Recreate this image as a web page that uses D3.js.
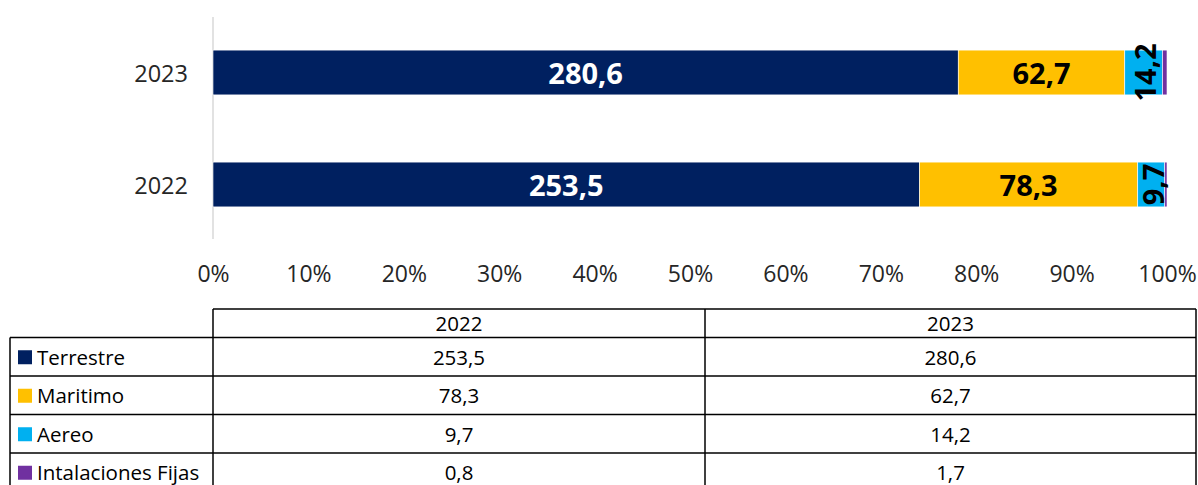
<!DOCTYPE html>
<html><head><meta charset="utf-8">
<script src="https://cdn.jsdelivr.net/npm/d3@7"></script>
<style>
html,body{margin:0;padding:0;background:#fff;}
svg{display:block;font-family:"Open Sans",sans-serif;}
</style></head>
<body>
<svg id="c" width="1198" height="485"></svg>
<script>
const years = ["2022", "2023"];
const seriesNames = ["Terrestre", "Maritimo", "Aereo", "Intalaciones Fijas"];
const terrestre = [253.5, 280.6];
const maritimo = [78.3, 62.7];
const aereo = [9.7, 14.2];
const fijas = [0.8, 1.7];
const colors = ["#002060", "#FFC000", "#00B0F0", "#7030A0"];
const tickValues = [0, 0.1, 0.2, 0.3, 0.4, 0.5, 0.6, 0.7, 0.8, 0.9, 1.0];

const seriesVals = [terrestre, maritimo, aereo, fijas];
const fmt = v => d3.format(".1f")(v).replace(".", ",");

const svg = d3.select("#c");
const x = d3.scaleLinear().domain([0, 1]).range([213, 1167]);
const yOrder = ["2023", "2022"];
const y = d3.scaleBand().domain(yOrder).range([16.5, 240.5]).paddingInner(0.6).paddingOuter(0.3);

const rows = years.map((yr, i) => {
  const vals = seriesVals.map(s => s[i]);
  const total = d3.sum(vals);
  let acc = 0;
  return {year: yr, segs: vals.map((v, k) => { const s = {k, v, x0: acc / total, x1: (acc + v) / total}; acc += v; return s; })};
});

svg.append("line").attr("x1", 213).attr("x2", 213).attr("y1", 17).attr("y2", 239)
  .attr("stroke", "#d9d9d9").attr("stroke-width", 1.5);

const g = svg.append("g");
rows.forEach(r => {
  const gy = y(r.year);
  r.segs.forEach(s => {
    g.append("rect").attr("x", x(s.x0)).attr("y", gy)
      .attr("width", Math.max(0, x(s.x1) - x(s.x0))).attr("height", y.bandwidth())
      .attr("fill", colors[s.k]).attr("stroke", "#fff").attr("stroke-width", 0.6);
  });
  r.segs.forEach(s => {
    if (s.k === 3) return;
    const cx = (x(s.x0) + x(s.x1)) / 2, cy = gy + y.bandwidth() / 2;
    const t = g.append("text").attr("font-weight", "bold").attr("font-size", 29)
      .attr("fill", s.k === 0 ? "#fff" : "#000").attr("text-anchor", "middle")
      .attr("dominant-baseline", "central").text(fmt(s.v));
    if (s.k === 2) t.attr("transform", `translate(${cx + 1},${cy}) rotate(-90)`);
    else t.attr("x", cx).attr("y", cy);
  });
  svg.append("text").attr("x", 188).attr("y", gy + y.bandwidth() / 2)
    .attr("text-anchor", "end").attr("dominant-baseline", "central")
    .attr("font-size", 23.5).attr("fill", "#262626").text(r.year);
});

const ax = svg.append("g").attr("transform", "translate(0,273)")
  .call(d3.axisBottom(x).tickValues(tickValues).tickFormat(d3.format(".0%")).tickSize(0));
ax.select(".domain").remove();
ax.selectAll("text").attr("font-size", 23).attr("fill", "#262626")
  .attr("font-family", "'Open Sans',sans-serif").attr("dy", null).attr("y", 0)
  .attr("dominant-baseline", "central");

// data table
const tx = [10, 213, 705, 1196];
const ty = [309, 337.5, 376, 414.5, 453, 491.5];
const tg = svg.append("g");
const line = (x1, y1, x2, y2) => tg.append("line").attr("x1", x1).attr("y1", y1).attr("x2", x2).attr("y2", y2)
  .attr("stroke", "#000").attr("stroke-width", 1.5);
line(213, ty[0], 1196, ty[0]);
for (let i = 1; i < ty.length; i++) line(10, ty[i], 1196, ty[i]);
line(10, ty[1], 10, 491.5);
line(213, ty[0], 213, 491.5);
line(705, ty[0], 705, 491.5);
line(1196, ty[0], 1196, 491.5);

const fs = 20.5;
years.forEach((yr, j) => {
  const cx = (tx[j + 1] + tx[j + 2]) / 2;
  tg.append("text").attr("x", cx).attr("y", (ty[0] + ty[1]) / 2).attr("text-anchor", "middle")
    .attr("dominant-baseline", "central").attr("font-size", fs).attr("fill", "#000").text(yr);
  seriesVals.forEach((s, k) => {
    tg.append("text").attr("x", cx).attr("y", (ty[k + 1] + ty[k + 2]) / 2).attr("text-anchor", "middle")
      .attr("dominant-baseline", "central").attr("font-size", fs).attr("fill", "#000").text(fmt(s[j]));
  });
});
seriesNames.forEach((n, k) => {
  const cy = (ty[k + 1] + ty[k + 2]) / 2;
  tg.append("rect").attr("x", 18).attr("y", cy - 6.5).attr("width", 14).attr("height", 14).attr("fill", colors[k]);
  tg.append("text").attr("x", 37).attr("y", cy).attr("dominant-baseline", "central")
    .attr("font-size", fs).attr("fill", "#000").text(n);
});
</script>
</body></html>
